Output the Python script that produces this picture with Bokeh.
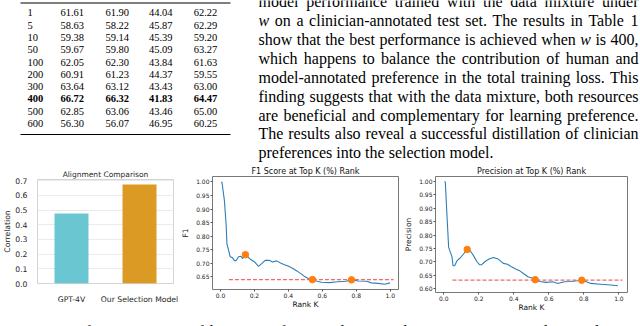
from bokeh.plotting import figure
from bokeh.layouts import row, column
from bokeh.models import Range1d, FactorRange, FixedTicker, PrintfTickFormatter, ColumnDataSource
from bokeh.core.properties import value
from bokeh.embed import file_html
from bokeh.resources import INLINE

# ---------------- data ----------------
w_values = ["1", "5", "10", "50", "100", "200", "300", "400", "500", "600"]
col_a = ["61.61", "58.63", "59.38", "59.67", "62.05", "60.91", "63.64", "66.72", "62.85", "56.30"]
col_b = ["61.90", "58.22", "59.14", "59.80", "62.30", "61.23", "63.12", "66.32", "63.06", "56.07"]
col_c = ["44.04", "45.87", "45.39", "45.09", "43.84", "44.37", "43.43", "41.83", "43.46", "46.95"]
col_d = ["62.22", "62.29", "59.20", "63.27", "61.63", "59.55", "63.00", "64.47", "65.00", "60.25"]
best_w = "400"

paragraph_lines = [
    "model performance trained with the data mixture under",
    "w on a clinician-annotated test set. The results in Table 1",
    "show that the best performance is achieved when w is 400,",
    "which happens to balance the contribution of human and",
    "model-annotated preference in the total training loss. This",
    "finding suggests that with the data mixture, both resources",
    "are beneficial and complementary for learning preference.",
    "The results also reveal a successful distillation of clinician",
    "preferences into the selection model.",
]
caption_line = ("Figure 3: Left: Comparison of human preference alignment between "
                "GPT-4V and our selection")
italic_words = {"w"}

models = ["GPT-4V", "Our Selection Model"]
correlation = [0.478, 0.675]
bar_colors = ["#6ac7d1", "#db9a24"]
bar_ticks = [0.0, 0.1, 0.2, 0.3, 0.4, 0.5, 0.6, 0.7]

f1_k = [0.004, 0.009, 0.023, 0.033, 0.038, 0.048, 0.057, 0.070, 0.084, 0.094, 0.106, 0.121,
        0.130, 0.147, 0.172, 0.201, 0.224, 0.243, 0.263, 0.287, 0.307, 0.331, 0.354, 0.377,
        0.402, 0.427, 0.450, 0.473, 0.494, 0.517, 0.542, 0.565, 0.594, 0.642, 0.690, 0.738,
        0.772, 0.813, 0.861, 0.890, 0.928, 0.967, 0.999]
f1_val = [1.000, 0.998, 0.932, 0.846, 0.772, 0.748, 0.724, 0.721, 0.709, 0.711, 0.724, 0.726,
          0.717, 0.732, 0.717, 0.705, 0.689, 0.699, 0.711, 0.711, 0.705, 0.709, 0.701, 0.695,
          0.689, 0.681, 0.672, 0.662, 0.652, 0.644, 0.640, 0.635, 0.630, 0.629, 0.632, 0.634,
          0.639, 0.635, 0.634, 0.628, 0.626, 0.623, 0.628]
f1_mark_k = [0.147, 0.542, 0.772]
f1_mark_v = [0.732, 0.640, 0.639]
f1_base = 0.640
f1_ticks = [0.65, 0.70, 0.75, 0.80, 0.85, 0.90, 0.95, 1.00]

prec_k = [0.004, 0.009, 0.019, 0.028, 0.038, 0.047, 0.053, 0.062, 0.076, 0.094, 0.113, 0.134,
          0.151, 0.170, 0.189, 0.204, 0.217, 0.236, 0.259, 0.283, 0.311, 0.340, 0.364, 0.387,
          0.410, 0.434, 0.459, 0.481, 0.506, 0.522, 0.547, 0.585, 0.622, 0.651, 0.688, 0.726,
          0.764, 0.788, 0.811, 0.839, 0.896, 0.953, 0.994]
prec_val = [1.000, 0.998, 0.866, 0.754, 0.735, 0.719, 0.685, 0.685, 0.704, 0.714, 0.729, 0.746,
            0.741, 0.723, 0.701, 0.689, 0.689, 0.701, 0.710, 0.716, 0.710, 0.694, 0.691, 0.681,
            0.673, 0.666, 0.654, 0.644, 0.638, 0.633, 0.626, 0.623, 0.625, 0.619, 0.625, 0.626,
            0.629, 0.631, 0.626, 0.619, 0.616, 0.613, 0.610]
prec_mark_k = [0.134, 0.522, 0.788]
prec_mark_v = [0.746, 0.633, 0.631]
prec_base = 0.631
prec_ticks = [0.60, 0.65, 0.70, 0.75, 0.80, 0.85, 0.90, 0.95, 1.00]

rank_ticks = [0.0, 0.2, 0.4, 0.6, 0.8, 1.0]
base_extent = [0.05, 1.02]

SERIF = value("Liberation Serif")
SANS = "DejaVu Sans"
W, H = 640, 326
TOP_H, ROW_H = 162, 154
CAP_H = H - TOP_H - ROW_H

# Times metrics for justified text
TW = {' ': 250, ',': 250, '.': 250, '-': 333, '(': 333, ')': 333, ':': 278,
      'A': 722, 'B': 667, 'C': 667, 'D': 722, 'E': 611, 'F': 556, 'G': 722, 'H': 722,
      'I': 333, 'J': 389, 'K': 722, 'L': 611, 'M': 889, 'N': 722, 'O': 722, 'P': 556,
      'Q': 722, 'R': 667, 'S': 556, 'T': 611, 'U': 722, 'V': 722, 'W': 944, 'X': 722,
      'Y': 722, 'Z': 611,
      'a': 444, 'b': 500, 'c': 444, 'd': 500, 'e': 444, 'f': 333, 'g': 500, 'h': 500,
      'i': 278, 'j': 278, 'k': 500, 'l': 278, 'm': 778, 'n': 500, 'o': 500, 'p': 500,
      'q': 500, 'r': 333, 's': 389, 't': 278, 'u': 500, 'v': 500, 'w': 722, 'x': 500,
      'y': 500, 'z': 444}
PFS = 16.0


def wwidth(word, italic):
    if italic:
        return 0.667 * PFS * len(word)
    return sum(TW.get(c, 500) for c in word) / 1000.0 * PFS


def justified(lines, x0, x1, y0, dy, last_justified):
    out = dict(nx=[], ny=[], nt=[], ix=[], iy=[], it=[])
    for li, line in enumerate(lines):
        words = line.split(" ")
        flags = [w in italic_words for w in words]
        widths = [wwidth(w, f) for w, f in zip(words, flags)]
        if (li < len(lines) - 1 or last_justified) and len(words) > 1:
            gap = (x1 - x0 - sum(widths)) / (len(words) - 1)
        else:
            gap = 0.25 * PFS
        x = x0
        y = y0 + li * dy
        for w, f, wd in zip(words, flags, widths):
            k = "i" if f else "n"
            out[k + "x"].append(x); out[k + "y"].append(y); out[k + "t"].append(w)
            x += wd + gap
    return out


def draw_words(p, d):
    p.text(x=d["nx"], y=d["ny"], text=d["nt"], text_font=SERIF, text_font_size=f"{PFS}px",
           text_align="left", text_baseline="middle", text_color="black")
    if d["it"]:
        p.text(x=d["ix"], y=d["iy"], text=d["it"], text_font=SERIF, text_font_size=f"{PFS}px",
               text_font_style="italic", text_align="left", text_baseline="middle",
               text_color="black")


def blank_fig(h, y0, y1):
    p = figure(width=W, height=h, x_range=Range1d(0, W), y_range=Range1d(y1, y0),
               output_backend="svg", toolbar_location=None, min_border=0,
               x_axis_location=None, y_axis_location=None)
    p.grid.visible = False
    p.outline_line_color = None
    return p


# ---------------- top: table + paragraph ----------------
top = blank_fig(TOP_H, 0, TOP_H)
row_y = [12.3 + 12.3 * i for i in range(len(w_values))]
col_x = [71.7, 116.7, 160.3, 205.0]
tfs = "10.5px"
for bold in (False, True):
    idx = [i for i, w in enumerate(w_values) if (w == best_w) == bold]
    style = "bold" if bold else "normal"
    top.text(x=[27.0] * len(idx), y=[row_y[i] for i in idx], text=[w_values[i] for i in idx],
             text_font=SERIF, text_font_size=tfs, text_font_style=style,
             text_align="left", text_baseline="middle", text_color="black")
    for cx, col in zip(col_x, [col_a, col_b, col_c, col_d]):
        top.text(x=[cx] * len(idx), y=[row_y[i] for i in idx], text=[col[i] for i in idx],
                 text_font=SERIF, text_font_size=tfs, text_font_style=style,
                 text_align="center", text_baseline="middle", text_color="black")
top.segment(x0=[20, 20], y0=[2.5, 134], x1=[230, 230], y1=[2.5, 134],
            line_color="black", line_width=1.2)
draw_words(top, justified(paragraph_lines, 258.0, 638.0, 1.1, 18.9, False))

# ---------------- bar chart ----------------
bar = figure(width=178, height=ROW_H, x_range=FactorRange(factors=models),
             y_range=Range1d(0, 0.709), output_backend="svg", toolbar_location=None,
             min_border_left=31, min_border_right=5, min_border_top=17, min_border_bottom=33,
             title="Alignment Comparison")
src = ColumnDataSource(dict(model=models, corr=correlation, color=bar_colors))
bar.vbar(x="model", top="corr", width=0.5, color="color", source=src, line_color=None)
bar.title.text_font = SANS
bar.title.text_font_size = "7.5px"
bar.title.text_font_style = "normal"
bar.title.text_color = "#262626"
bar.title.align = "center"
bar.title.standoff = 1
bar.yaxis.ticker = FixedTicker(ticks=bar_ticks)
bar.yaxis.formatter = PrintfTickFormatter(format="%.1f")
bar.yaxis.axis_label = "Correlation"
bar.yaxis.axis_label_standoff = 0
bar.xaxis.major_label_standoff = 5
bar.yaxis.major_label_standoff = 4
for ax in bar.axis:
    ax.axis_line_color = None
    ax.major_tick_line_color = None
    ax.minor_tick_line_color = None
    ax.major_label_text_font = SANS
    ax.major_label_text_font_size = "7.7px"
    ax.major_label_text_color = "#262626"
    ax.axis_label_text_font = SANS
    ax.axis_label_text_font_size = "7.7px"
    ax.axis_label_text_font_style = "normal"
    ax.axis_label_text_color = "#262626"
bar.xgrid.visible = False
bar.ygrid.grid_line_color = "#ebebeb"
bar.outline_line_color = "#d4d4d4"


# ---------------- rank charts ----------------
def rank_fig(width, title, ylabel, k, v, mk, mv, base, yr, yticks, mbl, mbr, mbb):
    p = figure(width=width, height=ROW_H, x_range=Range1d(-0.047, 1.049), y_range=Range1d(*yr),
               output_backend="svg", toolbar_location=None, title=title,
               min_border_left=mbl, min_border_right=mbr, min_border_top=14, min_border_bottom=mbb)
    p.line(k, v, line_color="#2d7fb8", line_width=1.1)
    p.line(base_extent, [base, base], line_color="#f05a5a", line_width=1.3,
           line_dash="4 2", line_alpha=0.9)
    p.scatter(mk, mv, size=6.5, fill_color="#ff7f0e", line_color="#ff7f0e")
    p.title.text_font = SANS
    p.title.text_font_size = "8px"
    p.title.text_font_style = "normal"
    p.title.text_color = "#111111"
    p.title.align = "center"
    p.title.standoff = 1
    p.xaxis.ticker = FixedTicker(ticks=rank_ticks)
    p.xaxis.formatter = PrintfTickFormatter(format="%.1f")
    p.yaxis.ticker = FixedTicker(ticks=yticks)
    p.yaxis.formatter = PrintfTickFormatter(format="%.2f")
    p.xaxis.axis_label = "Rank K"
    p.yaxis.axis_label = ylabel
    p.xaxis.major_label_standoff = 1
    p.yaxis.major_label_standoff = 1
    p.xaxis.axis_label_standoff = -1
    p.yaxis.axis_label_standoff = 3
    for ax in p.axis:
        ax.axis_line_color = None
        ax.major_tick_out = 2
        ax.major_tick_in = 0
        ax.major_tick_line_color = "#555555"
        ax.minor_tick_line_color = None
        ax.major_label_text_font = SANS
        ax.major_label_text_font_size = "6px"
        ax.major_label_text_color = "#222222"
        ax.axis_label_text_font = SANS
        ax.axis_label_text_font_size = "7.5px"
        ax.axis_label_text_font_style = "normal"
        ax.axis_label_text_color = "#111111"
    p.grid.visible = False
    p.outline_line_color = "#777777"
    p.outline_line_width = 1
    return p


f1 = rank_fig(222, "F1 Score at Top K (%) Rank", "F1", f1_k, f1_val, f1_mark_k, f1_mark_v,
              f1_base, (0.6035, 1.020), f1_ticks, 29, 2, 27)
prec = rank_fig(240, "Precision at Top K (%) Rank", "Precision", prec_k, prec_val, prec_mark_k,
                prec_mark_v, prec_base, (0.585, 1.019), prec_ticks, 35, 13, 24)

# ---------------- caption (cut at the bottom edge, as in the source) ----------------
cap = blank_fig(CAP_H, TOP_H + ROW_H, H)
draw_words(cap, justified([caption_line], 1.0, 638.0, 329.0, 0, True))

# each chart wrapped on its own so that the frames are not aligned to one another
charts = row(column(bar), column(f1), column(prec))
layout = column(top, charts, cap)
open("out.html", "w").write(file_html(layout, INLINE))
